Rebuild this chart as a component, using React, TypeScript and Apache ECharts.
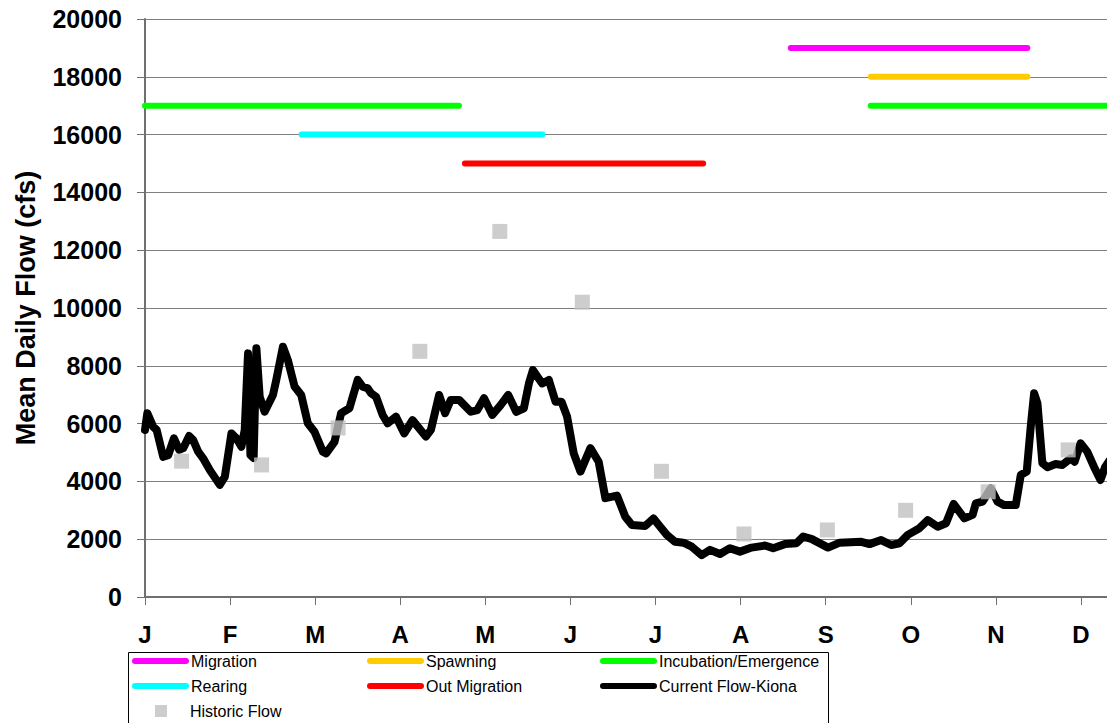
import React, { useEffect, useRef } from "react";
import * as echarts from "echarts";

const FONT = "'Liberation Sans', Arial, Helvetica, sans-serif";

const monthLabels = ["J", "F", "M", "A", "M", "J", "J", "A", "S", "O", "N", "D", ""];

// life-stage periods: [startMonth, value], [endMonth, value]
const migration = [[7.59, 19000], [10.37, 19000]];
const spawning = [[8.53, 18000], [10.37, 18000]];
const incubationEarly = [[0, 17000], [3.69, 17000]];
const incubationLate = [[8.53, 17000], [12, 17000]];
const rearing = [[1.84, 16000], [4.67, 16000]];
const outMigration = [[3.76, 15000], [6.56, 15000]];

// historic mean monthly flow (cfs)
const historicMonths = [0.43, 1.37, 2.27, 3.23, 4.17, 5.14, 6.07, 7.04, 8.02, 8.94, 9.91, 10.85];
const historicFlow = [4700, 4570, 5850, 8500, 12650, 10200, 4350, 2180, 2320, 3000, 3640, 5090];

// current daily flow at Kiona: [month, cfs]
const currentFlow = [
  [0.0, 5780], [0.027, 6360], [0.097, 5890], [0.137, 5780], [0.214, 4850], [0.273, 4910], [0.34, 5490],
  [0.402, 5090], [0.449, 5150], [0.519, 5570], [0.566, 5430], [0.625, 5030], [0.683, 4800], [0.762, 4390],
  [0.879, 3880], [0.938, 4160], [1.016, 5660], [1.075, 5490], [1.133, 5200], [1.172, 5780], [1.211, 8430],
  [1.239, 4910], [1.277, 4810], [1.309, 8610], [1.348, 6930], [1.406, 6410], [1.504, 6990], [1.543, 7510],
  [1.621, 8660], [1.679, 8200], [1.758, 7280], [1.836, 6990], [1.914, 6010], [1.992, 5720], [2.09, 5030],
  [2.129, 4970], [2.227, 5370], [2.305, 6360], [2.402, 6530], [2.5, 7510], [2.558, 7280], [2.617, 7220],
  [2.657, 7050], [2.715, 6930], [2.793, 6300], [2.851, 6010], [2.95, 6240], [3.047, 5660], [3.144, 6120],
  [3.301, 5550], [3.36, 5780], [3.457, 6990], [3.527, 6360], [3.594, 6820], [3.692, 6820], [3.829, 6410],
  [3.906, 6470], [3.985, 6880], [4.082, 6300], [4.18, 6640], [4.269, 6990], [4.363, 6410], [4.453, 6530],
  [4.512, 7390], [4.559, 7850], [4.668, 7390], [4.746, 7510], [4.825, 6760], [4.895, 6760], [4.961, 6240],
  [5.039, 4970], [5.118, 4340], [5.235, 5150], [5.332, 4680], [5.411, 3420], [5.547, 3510], [5.645, 2780],
  [5.723, 2490], [5.88, 2460], [5.977, 2720], [6.055, 2430], [6.133, 2150], [6.231, 1910], [6.328, 1880],
  [6.426, 1740], [6.543, 1450], [6.641, 1630], [6.758, 1490], [6.875, 1690], [6.993, 1570], [7.129, 1710],
  [7.286, 1780], [7.383, 1690], [7.52, 1830], [7.656, 1860], [7.735, 2090], [7.832, 2010], [8.028, 1710],
  [8.165, 1880], [8.418, 1910], [8.516, 1830], [8.652, 1970], [8.769, 1800], [8.868, 1860], [8.965, 2150],
  [9.102, 2380], [9.2, 2660], [9.317, 2430], [9.414, 2550], [9.504, 3220], [9.63, 2720], [9.727, 2840],
  [9.765, 3240], [9.844, 3300], [9.941, 3760], [10.02, 3300], [10.098, 3180], [10.234, 3180], [10.293, 4220],
  [10.363, 4340], [10.41, 5890], [10.45, 7050], [10.489, 6700], [10.547, 4630], [10.606, 4490], [10.703, 4600],
  [10.782, 4570], [10.879, 4800], [10.926, 4680], [10.996, 5320], [11.074, 5030], [11.153, 4510],
  [11.23, 4050], [11.286, 4510], [11.33, 4700],
];

const LINE_ICON = "path://M3,0 L54,0 A3,3 0 0 1 54,6 L3,6 A3,3 0 0 1 3,0 Z";

const legendItems = [
  { name: "Migration", left: 132, top: 653 },
  { name: "Spawning", left: 367, top: 653 },
  { name: "Incubation/Emergence", left: 600, top: 653 },
  { name: "Rearing", left: 132, top: 678 },
  { name: "Out Migration", left: 367, top: 678 },
  { name: "Current Flow-Kiona", left: 600, top: 678 },
  { name: "Historic Flow", left: 155, top: 703 },
];

export default function App() {
  const ref = useRef<HTMLDivElement>(null);
  useEffect(() => {
    if (!ref.current) return;
    const chart = echarts.init(ref.current, null, { renderer: "svg" });
    const periodSeries = (name: string, color: string, data: number[][]) => ({
      name,
      type: "line",
      data,
      color,
      symbol: "none",
      clip: false,
      lineStyle: { color, width: 6, cap: "round" },
      z: 3,
    });
    const legends = legendItems.map((it) => {
      const hist = it.name === "Historic Flow";
      return {
        data: [it.name],
        left: it.left,
        top: it.top,
        padding: 0,
        selectedMode: false,
        itemWidth: hist ? 12 : 57,
        itemHeight: hist ? 12 : 6,
        icon: hist ? "rect" : LINE_ICON,
        itemStyle: { borderWidth: 0 },
        textStyle: {
          fontFamily: FONT,
          fontSize: 16,
          color: "#000",
          padding: hist ? [0, 0, 0, 18] : [0, 0, 0, -3],
        },
      };
    });
    chart.setOption({
      animation: false,
      backgroundColor: "#fff",
      grid: { left: 145, top: 19, bottom: 126, right: 0, containLabel: false },
      legend: legends,
      xAxis: {
        type: "value",
        min: 0,
        max: 12,
        interval: 1,
        axisLine: { show: true, lineStyle: { color: "#707070", width: 2 } },
        axisTick: { show: true, length: 8, lineStyle: { color: "#707070", width: 1 } },
        splitLine: { show: false },
        axisLabel: {
          formatter: (v: number) => monthLabels[Math.round(v)] ?? "",
          fontFamily: FONT,
          fontWeight: "bold",
          fontSize: 24,
          color: "#000",
          margin: 25,
        },
      },
      yAxis: {
        type: "value",
        min: 0,
        max: 20000,
        interval: 2000,
        name: "Mean Daily Flow (cfs)",
        nameLocation: "middle",
        nameGap: 106,
        nameTextStyle: { fontFamily: FONT, fontWeight: "bold", fontSize: 27, color: "#000" },
        axisLine: { show: true, lineStyle: { color: "#707070", width: 2 } },
        axisTick: { show: true, length: 8, lineStyle: { color: "#707070", width: 1 } },
        splitLine: { show: true, lineStyle: { color: "#808080", width: 1 } },
        axisLabel: {
          formatter: (v: number) => String(v),
          fontFamily: FONT,
          fontWeight: "bold",
          fontSize: 25,
          color: "#000",
          margin: 23,
        },
      },
      graphic: [
        {
          type: "rect",
          left: 126,
          top: 650,
          shape: { width: 700, height: 80 },
          style: { fill: "none", stroke: "#000", lineWidth: 1 },
          z: -1,
        },
      ],
      series: [
        periodSeries("Migration", "#ff00ff", migration),
        periodSeries("Spawning", "#ffcc00", spawning),
        periodSeries("Incubation/Emergence", "#00ff00", incubationEarly),
        periodSeries("Incubation/Emergence", "#00ff00", incubationLate),
        periodSeries("Rearing", "#00ffff", rearing),
        periodSeries("Out Migration", "#ff0000", outMigration),
        {
          name: "Current Flow-Kiona",
          type: "line",
          data: currentFlow,
          color: "#000",
          symbol: "none",
          lineStyle: { color: "#000", width: 8, join: "round", cap: "round" },
          z: 4,
        },
        {
          name: "Historic Flow",
          type: "scatter",
          data: historicMonths.map((m, i) => [m, historicFlow[i]]),
          symbol: "rect",
          symbolSize: 15,
          color: "#c0c0c0",
          itemStyle: { color: "#c0c0c0" },
          z: 5,
        },
      ],
    });
    return () => chart.dispose();
  }, []);
  return (
    <div
      style={{
        position: "absolute",
        left: 0,
        top: 0,
        width: 1107,
        height: 723,
        overflow: "hidden",
        background: "#fff",
      }}
    >
      <div ref={ref} style={{ width: 1169, height: 723 }} />
    </div>
  );
}
